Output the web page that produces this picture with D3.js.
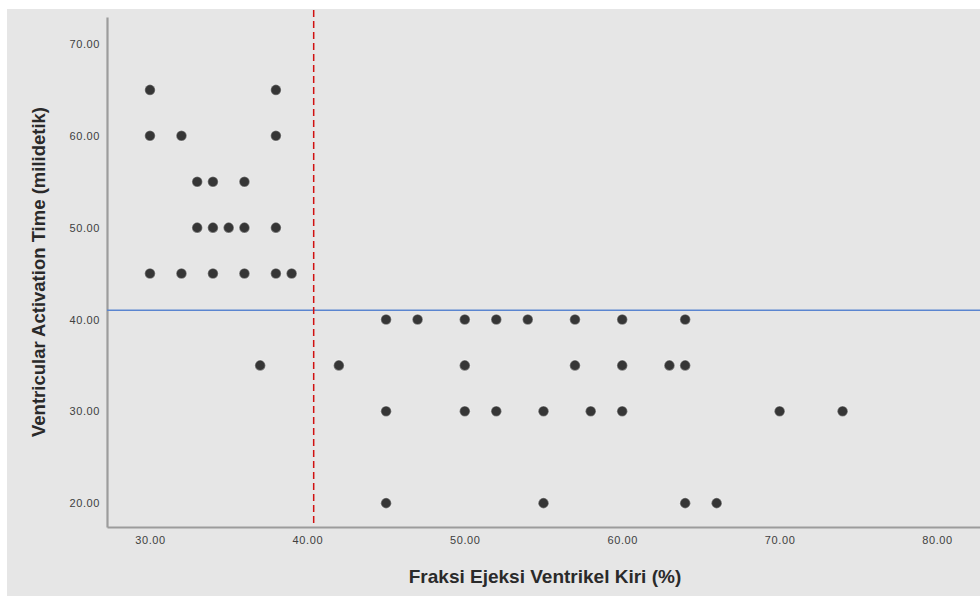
<!DOCTYPE html>
<html>
<head>
<meta charset="utf-8">
<script src="https://cdnjs.cloudflare.com/ajax/libs/d3/7.8.5/d3.min.js"></script>
<style>
  body { margin: 0; background: #ffffff; }
</style>
</head>
<body>
<script>
// scatter data: pairs of (EF %, VAT ms)
let ejectionFraction = [
  30, 38,
  30, 32, 38,
  33, 34, 36,
  33, 34, 35, 36, 38,
  30, 32, 34, 36, 38, 39,
  45, 47, 50, 52, 54, 57, 60, 64,
  37, 42, 50, 57, 60, 63, 64,
  45, 50, 52, 55, 58, 60, 70, 74,
  45, 55, 64, 66
]
let activationTime = [
  65, 65,
  60, 60, 60,
  55, 55, 55,
  50, 50, 50, 50, 50,
  45, 45, 45, 45, 45, 45,
  40, 40, 40, 40, 40, 40, 40, 40,
  35, 35, 35, 35, 35, 35, 35,
  30, 30, 30, 30, 30, 30, 30, 30,
  20, 20, 20, 20
]
let xTicks = [30, 40, 50, 60, 70, 80]
let yTicks = [20, 30, 40, 50, 60, 70]
let efCutoff = 40.4
let vatCutoff = 41.0

function buildChart () {
  var width = 980
  var height = 596

  var svg = d3
    .select('body')
    .append('svg')
    .attr('width', width)
    .attr('height', height)

  // gray SPSS-like background
  svg
    .append('rect')
    .attr('x', 7)
    .attr('y', 9)
    .attr('width', width - 7)
    .attr('height', height - 9)
    .attr('fill', '#e6e6e6')

  let x = d3.scaleLinear().domain([27.27, 82.73]).range([107, 980])
  let y = d3.scaleLinear().domain([17.4, 72.94]).range([527, 17])

  let fmt = d3.format('.2f')

  // axes (no tick marks, only labels)
  let yAxis = svg
    .append('g')
    .attr('transform', 'translate(107,0)')
    .call(d3.axisLeft(y).tickValues(yTicks).tickFormat(fmt).tickSize(0).tickPadding(7))
  let xAxis = svg
    .append('g')
    .attr('transform', 'translate(0,527)')
    .call(d3.axisBottom(x).tickValues(xTicks).tickFormat(fmt).tickSize(0).tickPadding(9))

  ;[xAxis, yAxis].forEach(function (ax) {
    ax.select('.domain').attr('stroke', '#9c9c9c').attr('stroke-width', 2.2)
    ax
      .selectAll('text')
      .attr('fill', '#404040')
      .attr('font-family', 'Liberation Sans, Arial, sans-serif')
      .attr('font-size', 11)
      .attr('letter-spacing', '0.6px')
  })

  // reference lines
  svg
    .append('line')
    .attr('x1', 107)
    .attr('x2', 980)
    .attr('y1', y(vatCutoff))
    .attr('y2', y(vatCutoff))
    .attr('stroke', '#5a85d0')
    .attr('stroke-width', 1.5)

  svg
    .append('line')
    .attr('x1', x(efCutoff))
    .attr('x2', x(efCutoff))
    .attr('y1', 10)
    .attr('y2', 527)
    .attr('stroke', '#d01010')
    .attr('stroke-width', 1.5)
    .attr('stroke-dasharray', '7,4')

  // points
  svg
    .selectAll('.dot')
    .data(ejectionFraction)
    .enter()
    .append('circle')
    .attr('class', 'dot')
    .attr('cx', function (d) {
      return x(d)
    })
    .attr('cy', function (d, i) {
      return y(activationTime[i])
    })
    .attr('r', 5.3)
    .attr('fill', '#363636')
    .attr('stroke', 'rgba(255,255,255,0.35)')
    .attr('stroke-width', 1.5)

  // axis titles
  svg
    .append('text')
    .attr('x', 545)
    .attr('y', 583)
    .attr('text-anchor', 'middle')
    .attr('font-family', 'Liberation Sans, Arial, sans-serif')
    .attr('font-size', 19)
    .attr('font-weight', 'bold')
    .attr('fill', '#2a2a2a')
    .text('Fraksi Ejeksi Ventrikel Kiri (%)')

  svg
    .append('text')
    .attr('transform', 'translate(45,272) rotate(-90)')
    .attr('text-anchor', 'middle')
    .attr('font-family', 'Liberation Sans, Arial, sans-serif')
    .attr('font-size', 18.5)
    .attr('font-weight', 'bold')
    .attr('fill', '#2a2a2a')
    .text('Ventricular Activation Time (milidetik)')
}

buildChart()
</script>
</body>
</html>
